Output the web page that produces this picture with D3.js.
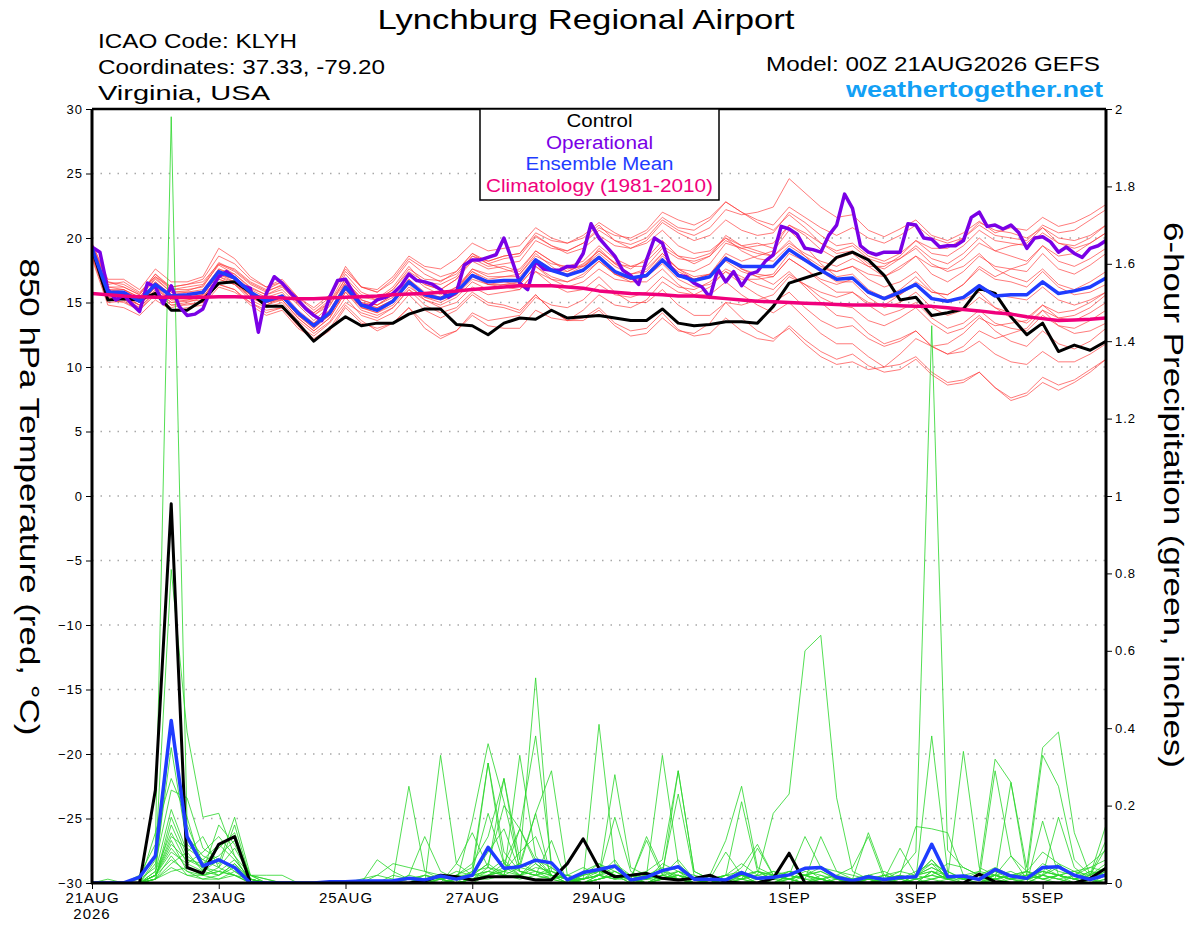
<!DOCTYPE html>
<html>
<head>
<meta charset="utf-8">
<script src="https://cdn.jsdelivr.net/npm/d3@7"></script>
<style>
  body { margin: 0; background: #fff; }
  text { font-family: "Liberation Sans", Arial, Helvetica, sans-serif; }
</style>
</head>
<body>
<svg id="chart" width="1200" height="927"></svg>
<script>
// ---- Data ----
const runStart = Date.UTC(2026, 7, 21, 0);
const hours6 = d3.range(0, 385, 6);   // ensemble output, 6-hourly
const hours3 = d3.range(0, 385, 3);   // operational output, 3-hourly
const dateTicks = ["2026-08-21", "2026-08-23", "2026-08-25", "2026-08-27",
                   "2026-08-29", "2026-09-01", "2026-09-03", "2026-09-05"];
const tempTicks = [-30, -25, -20, -15, -10, -5, 0, 5, 10, 15, 20, 25, 30];
const precipTicks = [0, 0.2, 0.4, 0.6, 0.8, 1, 1.2, 1.4, 1.6, 1.8, 2];
const legendItems = ["Control", "Operational", "Ensemble Mean", "Climatology (1981-2010)"];

// 850 hPa temperature, 20 ensemble members (deg C)
const memberTemps = [
  [19.0,16.2,16.0,15.4,16.9,15.8,15.9,16.3, 17.9,17.2,16.1,15.6,16.0,14.8,13.6,14.7, 16.9,15.6,15.2,16.0,17.6,16.8,16.7,17.2, 18.6,18.0,18.4,18.6,20.1,19.4,19.0,19.6, 20.6,19.8,19.5,20.0,21.4,20.6,20.2,20.8, 22.2,21.8,22.0,22.4,24.6,23.5,22.4,21.6, 21.8,20.6,20.1,20.7,21.4,20.2,19.8,20.4, 21.3,20.4,20.8,20.6,21.6,20.9,21.2,21.8,22.6],
  [18.8,15.4,15.2,14.6,15.9,15.0,15.1,15.2, 16.8,16.4,15.2,14.6,15.0,13.6,12.6,13.5, 15.4,14.0,13.6,14.2,15.6,14.4,13.8,14.4, 15.6,14.8,14.6,14.2,15.6,14.4,13.6,13.8, 14.6,13.4,12.8,13.0,14.2,12.9,12.4,12.6, 13.8,12.8,12.2,12.0,13.2,12.1,11.2,10.6, 11.0,10.1,9.6,9.8,10.6,9.4,8.6,8.8, 9.6,8.4,7.6,8.0,9.2,8.6,9.0,9.8,10.6],
  [19.4,16.6,16.4,15.7,17.2,16.0,16.2,16.4, 18.1,17.5,16.5,15.9,16.3,14.9,14.0,15.0, 17.2,15.8,15.3,16.2,17.8,16.4,16.0,16.8, 18.2,17.6,17.8,17.4,19.0,18.2,17.4,17.9, 19.0,18.1,17.6,18.4,19.8,18.6,18.0,18.6, 20.2,19.4,19.6,19.2,21.0,20.2,19.1,18.4, 18.8,17.8,17.0,17.8,18.6,17.2,16.6,17.4, 18.6,17.8,17.6,17.4,18.8,17.6,17.2,17.9,18.8],
  [18.6,15.0,15.1,14.4,15.6,14.6,14.9,15.0, 16.4,16.0,14.8,14.0,14.4,13.0,12.2,13.0, 14.8,13.6,12.8,13.4,14.6,13.0,12.2,12.8, 14.2,13.6,13.8,14.0,15.4,14.8,14.6,15.2, 16.4,15.6,15.4,15.8,17.0,16.2,16.0,16.6, 17.6,17.0,16.4,16.0,17.2,16.4,15.4,14.8, 14.6,13.6,13.2,13.8,14.6,13.4,12.6,13.0, 14.0,12.8,12.0,11.6,12.8,11.8,11.4,12.0,13.0],
  [19.6,16.8,16.8,16.0,17.6,16.6,16.6,17.0, 19.2,18.4,17.0,16.2,16.6,15.2,14.2,15.2, 17.8,16.2,15.8,16.8,18.4,17.6,17.0,17.4, 18.8,18.0,17.6,17.2,18.8,17.8,17.0,17.6, 19.2,18.0,17.2,17.4,18.8,17.6,16.8,17.2, 18.8,18.2,18.6,19.0,20.6,19.4,18.0,17.0, 17.2,16.0,15.4,16.0,17.0,15.8,15.6,16.4, 17.8,17.0,17.6,18.0,19.4,18.6,18.8,19.6,20.4],
  [18.4,14.8,14.6,14.0,15.2,14.4,14.6,14.8, 16.2,15.8,15.0,14.4,14.6,13.2,12.4,13.4, 15.0,14.2,13.8,14.6,16.0,15.2,14.8,15.4, 16.6,16.0,16.4,16.6,18.2,17.4,17.2,17.8, 18.8,17.8,17.2,17.6,18.8,17.6,17.0,17.2, 18.6,17.6,17.0,16.4,17.4,16.2,15.0,14.0, 13.8,12.6,11.8,12.2,12.8,11.6,11.0,11.6, 12.8,12.2,12.6,13.0,14.4,13.8,14.0,14.6,15.6],
  [19.2,16.0,16.0,15.2,16.6,15.6,15.8,16.0, 17.6,17.2,16.2,15.6,16.2,15.0,14.0,14.8, 16.6,15.4,15.2,16.0,17.4,16.6,16.4,17.0, 18.6,18.2,18.6,18.8,20.4,19.8,19.6,20.2, 21.2,20.4,19.8,20.4,21.6,20.8,20.6,21.4, 22.8,22.0,21.2,20.6,21.8,20.8,19.6,18.8, 19.0,18.0,17.6,18.4,19.4,18.4,18.0,18.8, 20.0,19.0,18.6,18.2,19.4,18.2,17.8,18.4,19.2],
  [19.0,15.6,15.6,14.8,16.2,15.2,15.4,15.6, 17.2,16.6,15.4,14.8,15.2,13.8,12.8,13.8, 15.8,14.4,14.0,14.6,16.0,14.8,14.2,14.6, 15.8,15.0,14.8,14.4,15.6,14.4,13.6,13.6, 14.4,13.2,12.4,12.6,13.8,12.8,12.6,13.4, 15.0,14.8,15.2,15.6,17.0,16.4,15.8,15.4, 15.8,15.0,14.8,15.6,16.6,15.8,15.6,16.4, 17.6,16.8,16.6,16.2,17.4,16.2,15.6,15.8,16.4],
  [18.8,15.8,15.8,15.0,16.4,15.4,15.4,15.6, 17.2,16.8,15.8,15.2,15.6,14.2,13.2,14.2, 16.2,14.8,14.4,15.2,16.8,15.8,15.4,16.0, 17.4,16.8,17.0,17.0,18.4,17.6,17.2,17.6, 18.4,17.2,16.6,16.6,17.6,16.4,15.6,15.6, 16.6,15.6,14.8,14.2,15.0,13.8,12.6,11.8, 11.8,10.8,10.0,10.2,10.8,9.6,8.8,9.0, 9.6,8.4,7.4,7.8,8.8,8.2,8.8,9.6,10.6],
  [19.2,15.6,15.4,14.8,16.0,15.2,15.2,15.4, 16.8,16.4,15.6,15.0,15.2,13.8,12.8,13.8, 15.8,14.6,14.2,14.8,16.2,15.4,15.2,15.6, 16.8,16.4,16.6,16.8,18.2,17.6,17.4,18.0, 19.0,18.0,17.8,18.2,19.4,18.6,18.4,18.8, 20.0,19.4,19.0,18.6,19.6,18.8,18.2,17.8, 18.4,17.8,17.8,18.6,19.8,19.2,19.2,20.0, 21.2,20.6,20.4,20.0,20.8,19.6,19.2,19.6,20.4],
  [18.6,15.2,15.4,14.8,16.2,15.0,15.2,15.4, 17.0,16.4,15.4,14.8,15.4,14.0,13.0,14.0, 16.0,14.6,14.4,15.0,16.6,15.6,15.4,16.2, 17.6,17.0,17.0,17.2,18.6,18.0,17.8,18.2, 19.4,18.4,17.8,17.8,19.2,18.4,18.2,18.6, 19.8,19.2,18.8,18.6,19.8,18.6,17.4,16.6, 16.6,15.4,14.6,15.0,15.8,14.6,14.0,14.4, 15.4,14.6,14.2,13.8,14.8,13.8,13.6,14.2,15.0],
  [19.4,16.4,16.6,15.8,17.0,16.2,16.4,16.6, 18.0,17.4,16.4,15.8,16.4,15.0,14.2,15.0, 16.8,15.2,14.8,15.6,17.2,16.2,15.6,16.2, 17.4,16.6,16.6,16.4,17.8,17.0,16.6,17.0, 18.2,17.2,16.8,17.2,18.6,17.6,17.4,18.0, 19.6,19.2,19.4,19.6,21.0,20.4,19.6,19.0, 19.4,18.4,18.0,18.4,19.2,18.0,17.4,17.8, 18.8,17.6,17.0,16.6,17.6,16.4,16.0,16.6,17.4],
  [18.8,15.6,15.4,14.6,15.8,14.8,14.8,15.0, 16.4,16.0,15.0,14.2,14.6,13.2,12.0,12.8, 14.6,13.4,13.0,13.4,14.6,13.4,12.4,12.8, 14.0,13.2,13.0,13.0,14.4,13.8,13.6,14.4, 15.6,14.8,14.6,15.2,16.6,15.8,15.6,16.2, 17.4,16.8,16.8,17.0,18.4,17.6,16.6,15.8, 15.8,14.8,14.0,14.4,15.0,13.8,13.0,13.4, 14.4,13.4,13.0,12.8,14.0,13.2,13.0,13.6,14.4],
  [19.0,16.0,15.8,15.2,16.6,15.6,15.6,15.8, 17.4,17.0,16.0,15.4,15.8,14.4,13.4,14.4, 16.4,15.0,14.8,15.6,17.2,16.4,16.0,16.8, 18.4,17.8,18.0,18.2,19.8,19.2,19.0,19.6, 20.8,20.2,20.0,20.6,22.0,21.4,21.0,21.6, 22.8,22.0,21.4,21.0,22.4,21.6,20.8,20.2, 20.8,20.0,19.6,20.2,21.0,20.0,19.6,20.0, 21.0,20.2,20.0,19.8,21.0,20.4,20.6,21.4,22.2],
  [19.2,15.8,15.6,15.0,16.4,15.4,15.6,15.8, 17.6,17.0,15.8,15.0,15.4,14.2,13.2,14.0, 16.0,14.6,14.2,15.0,16.6,15.4,15.0,15.6, 17.0,16.4,16.4,16.4,17.8,16.8,16.2,16.6, 17.6,16.8,16.6,17.0,18.2,17.2,16.8,17.2, 18.4,17.6,17.2,17.0,18.4,17.6,16.8,16.4, 16.8,15.8,15.2,15.6,16.4,15.4,15.0,15.4, 16.4,15.6,15.4,15.2,16.2,15.2,14.8,15.2,15.8],
  [19.0,15.4,15.6,15.0,16.2,15.4,15.4,15.6, 17.2,16.8,15.8,15.2,15.4,14.2,13.4,14.4, 16.4,15.0,14.6,15.2,16.6,15.6,15.2,15.8, 17.2,16.4,16.2,16.0,17.4,16.4,15.8,16.0, 17.0,15.8,15.0,15.0,16.0,14.8,14.0,14.0, 15.0,13.8,12.8,12.2,13.0,11.8,10.8,10.2, 10.4,9.8,10.0,11.0,12.2,11.6,11.8,12.6, 13.8,13.2,13.4,13.6,14.8,14.2,14.4,15.0,15.8],
  [19.4,16.2,16.2,15.6,17.0,16.0,16.0,16.2, 18.0,17.6,16.6,16.0,16.6,15.4,14.4,15.4, 17.4,16.2,16.0,17.0,18.6,17.8,17.6,18.4, 19.6,19.0,19.2,19.4,20.8,20.0,19.6,20.0, 21.0,19.8,19.2,19.6,20.6,19.4,18.8,19.0, 20.0,19.0,18.4,18.2,19.4,18.6,17.8,17.4, 17.8,17.2,17.0,17.6,18.6,17.8,17.6,18.4, 19.6,19.0,19.4,19.6,20.8,20.0,19.8,20.2,21.0],
  [18.6,15.8,16.0,15.4,16.8,15.8,15.8,15.8, 17.4,16.8,15.6,15.0,15.4,14.0,13.0,14.2, 16.6,15.2,14.8,15.4,16.8,15.6,15.4,16.0, 17.6,17.2,17.4,17.6,19.0,18.2,17.6,17.8, 18.6,17.4,16.8,17.0,18.4,17.4,16.8,17.0, 18.2,17.4,17.0,17.2,18.8,18.2,17.6,17.4, 17.8,16.8,16.2,16.6,17.4,16.0,15.2,15.2, 15.8,14.6,13.8,13.4,14.4,13.2,12.6,12.8,13.4],
  [19.0,15.2,15.0,14.4,15.8,14.8,15.0,15.4, 17.0,16.6,15.6,15.0,15.4,14.0,13.2,14.0, 16.0,14.8,14.6,15.2,16.4,15.2,14.6,15.0, 16.2,15.6,15.8,16.0,17.4,16.8,16.6,17.2, 18.2,17.2,16.8,17.0,18.0,16.8,16.2,16.4, 17.4,16.4,15.6,15.0,15.8,14.6,13.6,13.0, 13.2,12.2,11.6,12.0,12.8,11.6,11.0,11.2, 12.0,11.0,10.4,10.2,11.2,10.4,10.4,11.0,11.8],
  [19.6,16.6,16.2,15.6,17.2,16.2,16.4,16.8, 18.6,18.0,16.8,16.2,16.8,15.4,14.6,15.6, 17.6,16.2,15.8,16.6,18.2,17.2,16.6,17.4, 18.8,18.2,18.6,18.8,20.2,19.4,18.8,19.2, 20.2,19.4,19.2,19.8,21.2,20.4,19.8,20.2, 21.4,20.6,20.2,20.4,22.0,21.2,20.2,19.4, 19.6,18.6,18.2,18.8,19.8,18.8,18.6,19.4, 20.6,19.8,19.6,19.4,20.4,19.6,19.4,20.0,21.0]
];

// control, ensemble mean and climatology temperatures (6-hourly)
const controlTemp = [19.2,15.2,15.3,15.2,15.7,14.4,14.4,15.2,16.5,16.6,15.8,14.7,14.7,13.4,12.0,13.0,13.9,13.2,13.4,13.4,14.1,14.5,
  14.5,13.3,13.2,12.5,13.4,13.8,13.7,14.4,13.8,13.9,14.0,13.8,13.6,13.6,14.5,13.4,13.2,13.3,13.5,13.5,13.4,14.7,
  16.5,16.9,17.3,18.5,18.9,18.3,17.1,15.2,15.4,14.0,14.2,14.5,16.1,15.7,13.9,12.5,13.4,11.2,11.7,11.3,12.0];
const meanTemp = [19.2,15.8,15.8,15.1,16.4,15.5,15.6,15.8,17.4,16.9,15.8,15.1,15.5,14.2,13.2,14.2,16.2,14.8,14.4,15.1,16.6,15.6,
  15.3,15.8,17.1,16.6,16.7,16.7,18.3,17.5,17.1,17.5,18.5,17.4,16.9,17.1,18.3,17.1,16.7,17.0,18.4,17.8,17.8,17.8,
  19.1,18.3,17.5,16.8,16.9,15.8,15.3,15.8,16.4,15.3,15.1,15.4,16.3,15.5,15.6,15.6,16.6,15.7,15.9,16.2,16.9];
const climoTemp = [15.7,15.6,15.5,15.45,15.4,15.4,15.4,15.4, 15.45,15.45,15.4,15.4,15.35,15.3,15.3,15.35,
  15.4,15.45,15.5,15.6,15.65,15.7,15.8,15.9, 16.0,16.1,16.2,16.3,16.3,16.3,16.2,16.1,
  15.9,15.8,15.7,15.65,15.6,15.5,15.5,15.4, 15.3,15.2,15.1,15.05,15.0,14.95,14.9,14.85,
  14.8,14.8,14.8,14.75,14.7,14.7,14.6,14.45, 14.35,14.2,14.1,13.9,13.75,13.6,13.65,13.7, 13.8];

// operational run temperature (3-hourly)
const operTemp = [19.3,18.9,16.0,15.2,15.6,14.9,14.3,16.5,16.2,14.9,16.3,14.7,14.0,14.1,14.5,16.0,17.0,17.4,16.9,16.3,
  16.1,12.7,15.7,17.0,16.5,15.8,15.2,14.5,14.0,13.6,15.4,16.7,16.8,15.7,14.8,14.7,15.2,15.4,15.7,16.3,17.2,16.7,16.6,
  16.4,16.0,15.4,15.8,17.9,18.3,18.3,18.5,18.7,20.0,18.3,16.5,16.0,18.2,17.6,17.5,17.5,17.8,17.8,18.8,21.1,20.0,19.3,
  18.6,17.5,17.1,16.4,18.3,20.0,19.6,17.8,17.1,17.0,16.5,16.2,15.4,17.6,16.6,17.4,16.3,17.2,17.4,
  18.2,18.7,20.9,20.7,20.3,19.2,19.1,18.9,20.2,21.0,23.4,22.3,19.4,18.9,18.7,18.9,18.9,18.9,21.1,21.0,20.0,19.9,
  19.3,19.4,19.4,19.8,21.6,22.0,20.9,21.0,20.7,21.0,20.4,19.2,20.0,20.1,19.7,18.9,19.3,18.8,18.5,19.2,19.4,19.8];

// 6-hour precipitation, 20 ensemble members (inches)
const memberPrecip = [
  [0,0,0,0.02,0.10,1.98,0.15,0.05, 0.09,0.13,0.01,0,0,0,0,0, 0,0,0,0,0.01,0,0.02,0.01, 0.02,0.31,0.08,0.03,0.02,0.11,0,0.01, 0.02,0.06,0,0.01,0.03,0.02,0,0, 0,0.02,0,0,0.01,0,0,0, 0,0.01,0,0,0.02,0.06,0.01,0, 0,0.03,0.01,0,0.02,0.05,0.01,0, 0.01],
  [0,0,0,0,0.06,0.81,0.39,0.17, 0.18,0.07,0,0,0,0,0,0, 0,0.01,0.02,0.01,0.25,0.03,0.01,0, 0.01,0.04,0.27,0.06,0.53,0.03,0.02,0, 0.01,0.03,0.01,0,0.02,0.06,0.01,0, 0.01,0.04,0.10,0.02,0.01,0,0.02,0, 0,0,0.01,0,0,0.03,0.02,0.01, 0,0.02,0.07,0.03,0.01,0,0.02,0.04, 0.03],
  [0,0,0,0,0.02,0.41,0.12,0.07, 0.05,0.17,0.02,0.02,0.02,0,0,0, 0,0,0,0,0.02,0.12,0.03,0.01, 0.03,0.18,0.05,0.14,0.06,0.02,0,0.03, 0.05,0.02,0,0.02,0.04,0.01,0,0.01, 0.02,0.01,0,0.01,0.03,0.02,0,0.01, 0,0,0.02,0.03,0.08,1.44,0.085,0.04, 0.02,0.01,0,0,0.02,0.01,0,0.02, 0.04],
  [0,0,0,0.01,0.04,0.35,0.10,0.06, 0.10,0.06,0.01,0,0,0,0,0, 0,0,0,0,0,0.02,0.01,0, 0.01,0.02,0.04,0.02,0.04,0.03,0.01,0.02, 0.03,0.02,0.01,0,0.02,0.01,0,0, 0.02,0.05,0.02,0.18,0.23,0.60,0.64,0.22, 0.03,0.01,0,0,0.01,0.02,0.01,0, 0,0.01,0.02,0.01,0,0.02,0.03,0.01, 0],
  [0,0,0,0,0.13,0.27,0.17,0.03, 0.15,0.10,0.02,0,0,0,0,0, 0,0,0.06,0.03,0.01,0,0.33,0.05, 0.02,0.03,0.02,0.33,0.07,0.02,0,0.01, 0.41,0.05,0.02,0,0.01,0.02,0,0, 0,0,0.01,0,0.02,0.04,0.01,0, 0,0,0,0.01,0.02,0.03,0.01,0.34, 0.04,0.02,0,0.01,0.04,0.02,0.01,0, 0.02],
  [0,0,0,0,0.03,0.19,0.08,0.12, 0.04,0.15,0.01,0,0,0,0,0, 0,0,0,0,0,0.01,0.02,0, 0.16,0.36,0.21,0.04,0.18,0.29,0.02,0.01, 0.02,0.17,0.03,0.01,0.02,0.03,0.01,0, 0.01,0.02,0,0.01,0.02,0.01,0.12,0.03, 0.01,0.13,0.02,0.01,0,0.01,0.02,0.01, 0.03,0.32,0.26,0.04,0.35,0.39,0.13,0.02, 0.09],
  [0,0,0,0,0.01,0.15,0.06,0.04, 0.02,0.05,0,0,0,0,0,0, 0,0,0,0,0,0.01,0,0.05, 0.13,0.04,0.02,0.14,0.38,0.05,0.01,0, 0.02,0.28,0.04,0.02,0.33,0.05,0.01,0.02, 0.11,0.25,0.04,0.02,0.01,0,0.01,0, 0,0,0.01,0.09,0.02,0.04,0.02,0.01, 0,0.02,0.01,0.02,0.33,0.25,0.06,0.02, 0.15],
  [0,0.01,0,0,0.02,0.11,0.03,0.02, 0.03,0.02,0,0,0,0,0,0, 0,0,0,0,0,0,0.01,0.02, 0.02,0.02,0.03,0.05,0.18,0.01,0,0.02, 0.05,0.03,0.01,0.11,0.02,0.29,0.03,0.01, 0.02,0.21,0.03,0.01,0.03,0.02,0.01,0.02, 0.04,0.12,0.01,0.02,0.146,0.14,0.13,0.02, 0.01,0.29,0.07,0.01,0.02,0.17,0.04,0.01, 0.03],
  [0,0,0,0,0.01,0.07,0.02,0.01, 0.01,0.03,0,0,0,0,0,0, 0,0,0,0,0,0,0,0, 0.01,0.01,0.02,0.01,0.02,0.03,0.01,0, 0.01,0.02,0,0,0.01,0.01,0,0, 0,0.01,0,0,0.02,0.01,0.01,0, 0,0,0,0,0.01,0.38,0.03,0.01, 0.01,0.02,0.01,0,0.16,0.02,0.01,0, 0.01],
  [0,0,0,0,0.05,0.24,0.22,0.09, 0.06,0.04,0.01,0,0,0,0,0, 0,0,0,0.02,0.01,0.02,0.01,0.02, 0.05,0.12,0.27,0.03,0.02,0.01,0.02,0.04, 0.02,0.01,0.02,0.03,0.06,0.29,0.03,0.01, 0.02,0.01,0.03,0.02,0.01,0.03,0.02,0.01, 0,0.01,0.02,0.01,0,0.01,0,0, 0,0.01,0.26,0.02,0.01,0.02,0,0.01, 0],
  [0,0,0,0,0.03,0.13,0.05,0.08, 0.12,0.07,0.02,0.01,0,0,0,0, 0,0,0.02,0.05,0.04,0.03,0.02,0.01, 0.02,0.05,0.20,0.14,0.05,0.02,0.01,0, 0.01,0.02,0.01,0.12,0.03,0.23,0.02,0, 0.01,0.01,0.02,0.03,0.01,0.02,0.04,0.03, 0.02,0.01,0.01,0.02,0.01,0.02,0.05,0.04, 0.02,0.03,0.02,0.03,0.08,0.05,0.03,0.02, 0.04],
  [0,0,0,0,0.02,0.09,0.04,0.02, 0.04,0.09,0.02,0,0,0,0,0, 0,0,0,0,0.02,0.01,0.02,0.01, 0.01,0.02,0.03,0.08,0.12,0.02,0.01,0.02, 0.03,0.02,0.01,0.02,0.01,0.02,0.01,0, 0.01,0.02,0.03,0.01,0,0.02,0.03,0.01, 0,0.01,0.02,0.01,0.03,0.05,0.03,0.01, 0.01,0.02,0.03,0.01,0.02,0.04,0.02,0.01, 0.02],
  [0,0,0,0,0.01,0.05,0.08,0.03, 0.02,0.04,0.01,0,0,0,0,0, 0,0,0,0,0,0,0.01,0.02, 0.04,0.31,0.05,0.02,0.05,0.02,0.01,0, 0.02,0.03,0.01,0,0.01,0.02,0.01,0, 0.02,0.03,0.01,0,0.02,0.01,0,0, 0,0,0,0,0.02,0.04,0.02,0, 0,0.01,0,0.01,0.02,0.01,0.02,0.05, 0.085],
  [0,0,0,0,0.02,0.06,0.03,0.01, 0.02,0.05,0.01,0,0,0,0,0, 0,0,0,0,0,0,0,0, 0,0.02,0.05,0.03,0.02,0.01,0,0, 0.01,0.02,0.01,0.01,0.02,0.01,0,0, 0,0.01,0.09,0.02,0.01,0,0.01,0, 0,0.01,0,0,0,0.03,0.01,0.02, 0.01,0.02,0.01,0.03,0.02,0.01,0,0.01, 0.02],
  [0,0,0,0,0.01,0.04,0.02,0.02, 0.03,0.02,0,0,0,0,0,0, 0,0,0,0,0,0,0,0, 0.01,0.03,0.02,0.02,0.03,0.02,0,0.01, 0.02,0.01,0.02,0.01,0.01,0.03,0.01,0, 0.01,0.02,0.01,0.02,0.03,0.02,0.01,0, 0.01,0.02,0.01,0,0.01,0.02,0.01,0.01, 0.02,0.01,0.02,0.02,0.01,0.02,0.01,0.03, 0.02],
  [0,0,0,0,0.02,0.10,0.06,0.05, 0.07,0.11,0.02,0.01,0,0,0,0, 0,0,0,0,0.01,0.02,0.01,0.03, 0.02,0.05,0.02,0.04,0.03,0.01,0.02,0.01, 0.04,0.02,0.01,0.02,0.03,0.01,0,0.01, 0.01,0.02,0.01,0.03,0.02,0.12,0.04,0.01, 0,0.02,0.01,0,0.02,0.03,0.01,0.02, 0.03,0.02,0.01,0.02,0.03,0.02,0.01,0.02, 0.05],
  [0,0,0,0,0.01,0.03,0.04,0.02, 0.01,0.02,0,0,0,0,0,0, 0,0,0,0,0,0,0,0.01, 0.02,0.08,0.14,0.03,0.02,0.04,0.01,0, 0.01,0.02,0.01,0,0.02,0.01,0,0, 0,0.02,0.01,0.02,0.01,0,0,0.01, 0,0,0.01,0.02,0.01,0,0.01,0.02, 0.01,0,0.01,0.02,0.03,0.02,0.03,0.04, 0.06],
  [0,0,0,0,0.02,0.08,0.05,0.03, 0.06,0.03,0.01,0,0,0,0,0, 0,0,0,0,0,0.01,0.01,0, 0.03,0.04,0.03,0.05,0.03,0.02,0.01,0.01, 0.02,0.04,0.02,0.01,0.05,0.03,0,0, 0.01,0.02,0.03,0.02,0.01,0.02,0.01,0.02, 0.01,0.02,0.03,0.01,0.02,0.06,0.02,0.01, 0.02,0.04,0.02,0.01,0.03,0.02,0.01,0.03, 0.02],
  [0,0,0,0,0.01,0.17,0.07,0.04, 0.03,0.06,0.01,0,0,0,0,0, 0,0,0,0,0,0,0.01,0, 0.01,0.02,0.03,0.02,0.06,0.04,0.01,0.01, 0.03,0.02,0.01,0,0.01,0.02,0.01,0, 0,0.01,0.02,0.01,0.01,0.02,0.01,0, 0.01,0,0.01,0.03,0.02,0.05,0.01,0.02, 0.01,0.02,0.01,0.01,0.05,0.03,0.02,0.01, 0.03],
  [0,0,0,0,0.02,0.12,0.09,0.06, 0.04,0.02,0.01,0,0,0,0,0, 0,0,0,0,0,0,0,0.01, 0.02,0.03,0.06,0.02,0.01,0.02,0.01,0.01, 0.02,0.01,0.01,0.02,0.01,0.03,0.02,0.01, 0.08,0.02,0.01,0,0.01,0.02,0.03,0.01, 0,0.01,0,0.01,0.02,0.01,0.02,0.01, 0.02,0.01,0.02,0.03,0.01,0.02,0.01,0.02, 0.11]
];

const controlPrecip = [0,0,0,0,0.24,0.98,0.04,0.025, 0.10,0.12,0,0,0,0,0,0, 0,0,0,0,0,0.005,0.02,0.016,
  0.008,0.016,0.016,0.016,0.008,0.008,0.05,0.114, 0.038,0.016,0.02,0.025,0.012,0.008,0.012,0.02,
  0.003,0,0,0.012,0.077,0,0,0, 0,0,0,0,0,0,0,0, 0.023,0.003,0,0,0,0,0,0.012, 0.038];
const meanPrecip = [0,0,0,0.015,0.07,0.42,0.12,0.044, 0.06,0.04,0,0,0,0,0,0.003, 0.003,0.005,0.005,0.006,0.012,0.008,0.018,0.01,
  0.02,0.092,0.038,0.042,0.059,0.052,0.008,0.027, 0.035,0.044,0.008,0.015,0.032,0.042,0.01,0.01,
  0.008,0.027,0.012,0.015,0.021,0.038,0.04,0.015, 0.006,0.016,0.009,0.014,0.016,0.10,0.016,0.018,
  0.009,0.035,0.018,0.012,0.04,0.042,0.02,0.009, 0.021];

// ---- Layout ----
const plotLeft = 92, plotRight = 1106, plotTop = 109, plotBottom = 883;
const colors = {
  member: "#ff3a3a", precip: "#2ad62a", control: "#000000",
  oper: "#7a00e6", mean: "#1f3cff", climo: "#f0007c", link: "#12a0f5"
};

const svg = d3.select("#chart");
const hourToDate = h => new Date(runStart + h * 3600e3);

const x = d3.scaleUtc()
  .domain([hourToDate(0), hourToDate(384)])
  .range([plotLeft, plotRight]);
const yT = d3.scaleLinear().domain([-30, 30]).range([plotBottom, plotTop]);
const yP = d3.scaleLinear().domain([0, 2]).range([plotBottom, plotTop]);

svg.append("defs").append("clipPath").attr("id", "plotClip")
  .append("rect")
  .attr("x", plotLeft).attr("y", plotTop)
  .attr("width", plotRight - plotLeft).attr("height", plotBottom - plotTop);

// dotted grid lines at the temperature ticks
svg.append("g")
  .selectAll("line")
  .data(tempTicks.filter(t => t > -30 && t < 30))
  .enter()
  .append("line")
  .attr("x1", plotLeft).attr("x2", plotRight)
  .attr("y1", d => yT(d)).attr("y2", d => yT(d))
  .attr("stroke", "#a8a8a8")
  .attr("stroke-width", 1.5)
  .attr("stroke-dasharray", "1.5,7");

// line generators
const lineT6 = d3.line().x((d, i) => x(hourToDate(hours6[i]))).y(d => yT(d));
const lineT3 = d3.line().x((d, i) => x(hourToDate(hours3[i]))).y(d => yT(d));
const lineP6 = d3.line().x((d, i) => x(hourToDate(hours6[i]))).y(d => yP(d));

const plot = svg.append("g").attr("clip-path", "url(#plotClip)");

plot.append("g")
  .selectAll("path")
  .data(memberTemps)
  .enter()
  .append("path")
  .attr("d", lineT6)
  .attr("fill", "none")
  .attr("stroke", colors.member)
  .attr("stroke-opacity", 0.75)
  .attr("stroke-width", 0.9);

plot.append("g")
  .selectAll("path")
  .data(memberPrecip)
  .enter()
  .append("path")
  .attr("d", lineP6)
  .attr("fill", "none")
  .attr("stroke", colors.precip)
  .attr("stroke-opacity", 0.9)
  .attr("stroke-width", 0.9);

// thick lines: control, operational, mean, climatology
let addThick = (data, gen, color, width) => {
  plot.append("path")
    .datum(data)
    .attr("d", gen)
    .attr("fill", "none")
    .attr("stroke", color)
    .attr("stroke-width", width)
    .attr("stroke-linejoin", "round");
};

addThick(controlPrecip, lineP6, colors.control, 3);
addThick(controlTemp, lineT6, colors.control, 3);
addThick(operTemp, lineT3, colors.oper, 3.5);
addThick(meanPrecip, lineP6, colors.mean, 3.5);
addThick(meanTemp, lineT6, colors.mean, 3.5);
addThick(climoTemp, lineT6, colors.climo, 3.5);

// ---- Axes ----
let styleAxis = (g, size) => {
  g.select(".domain").remove();
  g.selectAll(".tick line").attr("stroke", "#000").attr("stroke-width", 1);
  g.selectAll(".tick text").attr("fill", "#000")
    .style("font-family", "'Liberation Sans', Arial, sans-serif")
    .style("font-size", size)
    .style("letter-spacing", "1px");
};

svg.append("g")
  .attr("transform", `translate(${plotLeft},0)`)
  .call(d3.axisLeft(yT).tickValues(tempTicks).tickSize(6).tickPadding(3))
  .call(styleAxis, "13px");

svg.append("g")
  .attr("transform", `translate(${plotRight},0)`)
  .call(d3.axisRight(yP).tickValues(precipTicks).tickSize(6).tickPadding(3)
    .tickFormat(d => String(+d.toFixed(1))))
  .call(styleAxis, "13px");

const fmtDay = d3.utcFormat("%-d%b");
svg.append("g")
  .attr("transform", `translate(0,${plotBottom})`)
  .call(d3.axisBottom(x).tickValues(dateTicks.map(s => new Date(s + "T00:00:00Z")))
    .tickSize(6).tickPadding(3).tickFormat(d => fmtDay(d).toUpperCase()))
  .call(styleAxis, "15px");

svg.append("text")
  .attr("x", x(hourToDate(0)))
  .attr("y", 919)
  .attr("text-anchor", "middle")
  .style("font-size", "15px")
  .style("letter-spacing", "1px")
  .text("2026");

// frame
svg.append("line").attr("x1", plotLeft).attr("x2", plotRight).attr("y1", plotTop).attr("y2", plotTop)
  .attr("stroke", "#000").attr("stroke-width", 2.5);
svg.append("line").attr("x1", plotLeft - 1).attr("x2", plotRight + 1).attr("y1", plotBottom).attr("y2", plotBottom)
  .attr("stroke", "#000").attr("stroke-width", 3);
svg.append("line").attr("x1", plotLeft).attr("x2", plotLeft).attr("y1", plotTop).attr("y2", plotBottom + 1)
  .attr("stroke", "#000").attr("stroke-width", 3);
svg.append("line").attr("x1", plotRight).attr("x2", plotRight).attr("y1", plotTop).attr("y2", plotBottom + 1)
  .attr("stroke", "#000").attr("stroke-width", 3);

// ---- Legend box ----
const legendColors = [colors.control, colors.oper, colors.mean, colors.climo];
const legendWidths = [66, 107, 148, 227];
svg.append("rect")
  .attr("x", 480).attr("y", plotTop)
  .attr("width", 239).attr("height", 91)
  .attr("fill", "#fff")
  .attr("stroke", "#000")
  .attr("stroke-width", 1.5);

svg.append("g")
  .selectAll("text")
  .data(legendItems)
  .enter()
  .append("text")
  .attr("x", 599.5)
  .attr("y", (d, i) => 127 + i * 21.7)
  .attr("text-anchor", "middle")
  .attr("fill", (d, i) => legendColors[i])
  .attr("textLength", (d, i) => legendWidths[i])
  .attr("lengthAdjust", "spacingAndGlyphs")
  .style("font-size", "18px")
  .text(d => d);

// ---- Titles ----
// the original uses a wide Helvetica; textLength stretches to the same widths
let wideText = (sel, len) => sel.attr("textLength", len).attr("lengthAdjust", "spacingAndGlyphs");

svg.append("text")
  .attr("x", 586).attr("y", 29)
  .attr("text-anchor", "middle")
  .style("font-size", "28px")
  .text("Lynchburg Regional Airport")
  .call(wideText, 417);

const infoLines = ["ICAO Code: KLYH", "Coordinates: 37.33, -79.20", "Virginia, USA"];
const infoWidths = [199, 287, 172];
svg.append("g")
  .selectAll("text")
  .data(infoLines)
  .enter()
  .append("text")
  .attr("x", 98)
  .attr("y", (d, i) => 48 + i * 26)
  .attr("textLength", (d, i) => infoWidths[i])
  .attr("lengthAdjust", "spacingAndGlyphs")
  .style("font-size", "21px")
  .text(d => d);

svg.append("text")
  .attr("x", 1100).attr("y", 71)
  .attr("text-anchor", "end")
  .style("font-size", "21px")
  .text("Model: 00Z 21AUG2026 GEFS")
  .call(wideText, 334);

svg.append("text")
  .attr("x", 1103).attr("y", 97)
  .attr("text-anchor", "end")
  .attr("fill", colors.link)
  .style("font-size", "22px")
  .style("font-weight", "bold")
  .text("weathertogether.net")
  .call(wideText, 257);

svg.append("text")
  .attr("transform", "translate(30,497) rotate(90)")
  .attr("dy", "0.35em")
  .attr("text-anchor", "middle")
  .style("font-size", "28px")
  .text("850 hPa Temperature (red, °C)")
  .call(wideText, 477);

svg.append("text")
  .attr("transform", "translate(1174,495) rotate(90)")
  .attr("dy", "0.35em")
  .attr("text-anchor", "middle")
  .style("font-size", "28px")
  .text("6-hour Precipitation (green, inches)")
  .call(wideText, 546);
</script>
</body>
</html>
